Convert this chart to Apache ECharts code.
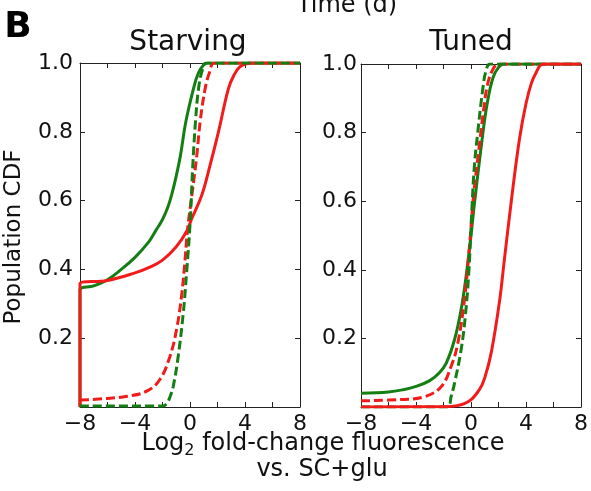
<!DOCTYPE html>
<html>
<head>
<meta charset="utf-8">
<script src="https://cdn.jsdelivr.net/npm/echarts@6/dist/echarts.min.js"></script>
<style>
  html, body { margin: 0; padding: 0; background: #fff; }
  #chart { width: 591px; height: 491px; }
</style>
</head>
<body>
<div id="chart"></div>
<script>
// values: [log2 fold change, CDF]
const starvGreenSolid = [[-8, 0], [-8, 0.34], [-7, 0.352], [-6, 0.37], [-5, 0.4], [-4, 0.435], [-3, 0.48], [-2.5, 0.512], [-2, 0.545], [-1.6, 0.582], [-1.3, 0.622], [-1.0, 0.672], [-0.7, 0.73], [-0.3, 0.83], [0.25, 0.925], [0.6, 0.97], [1.0, 0.995], [1.3, 1], [8, 1]];
const starvRedSolid = [[-8, 0], [-8, 0.358], [-6, 0.368], [-4, 0.39], [-3, 0.405], [-2, 0.427], [-1, 0.466], [-0.25, 0.51], [0.13, 0.548], [0.86, 0.616], [1.46, 0.703], [2.07, 0.8], [2.79, 0.925], [3.2, 0.965], [3.6, 0.988], [4.1, 0.998], [4.6, 1], [8, 1]];
const starvRedDash = [[-8, 0.02], [-6, 0.025], [-4.58, 0.031], [-3.15, 0.046], [-2.19, 0.08], [-1.46, 0.147], [-0.98, 0.225], [-0.62, 0.321], [-0.38, 0.418], [-0.18, 0.515], [0.15, 0.62], [0.49, 0.73], [0.74, 0.83], [1.1, 0.925], [1.4, 0.97], [1.8, 1], [8, 1]];
const starvGreenDash = [[-8, 0.003], [-2, 0.003], [-1.7, 0.01], [-1.45, 0.03], [-1.22, 0.06], [-0.86, 0.147], [-0.49, 0.273], [-0.25, 0.389], [0, 0.53], [0.2, 0.7], [0.4, 0.83], [0.62, 0.925], [0.9, 0.98], [1.2, 1], [8, 1]];

const tunedGreenSolid = [[-8, 0.04], [-6, 0.044], [-5, 0.05], [-4, 0.06], [-3, 0.077], [-2.3, 0.1], [-1.8, 0.128], [-1.2, 0.196], [-0.72, 0.284], [-0.36, 0.38], [0, 0.5], [0.27, 0.6], [0.87, 0.8], [1.2, 0.89], [1.6, 0.96], [2.0, 0.99], [2.4, 1], [8, 1]];
const tunedRedDash = [[-8, 0.018], [-5, 0.022], [-3.38, 0.03], [-2.17, 0.059], [-1.45, 0.118], [-0.96, 0.186], [-0.48, 0.312], [-0.15, 0.45], [0.2, 0.62], [0.57, 0.75], [0.93, 0.87], [1.2, 0.94], [1.6, 0.985], [2.0, 1], [8, 1]];
const tunedGreenDash = [[-8, 0], [-1.7, 0], [-1.45, 0.03], [-1.2, 0.069], [-0.72, 0.167], [-0.4, 0.27], [-0.15, 0.4], [0.07, 0.58], [0.24, 0.7], [0.49, 0.8], [0.85, 0.925], [1.09, 0.98], [1.4, 1], [8, 1]];
const tunedRedSolid = [[-8, 0], [-2, 0.001], [-1, 0.004], [-0.1, 0.018], [0.63, 0.052], [1.0, 0.085], [1.48, 0.16], [2.08, 0.31], [2.4, 0.42], [2.93, 0.6], [3.52, 0.78], [4.0, 0.885], [4.4, 0.945], [4.74, 0.975], [5.1, 0.998], [5.4, 1], [8, 1]];

const panelTitles = ["Starving", "Tuned"];
const xTicks = [-8, -4, 0, 4, 8];
const yTicks = [0.2, 0.4, 0.6, 0.8, 1.0];

const GREEN = "#137f13";
const RED = "#f31a1a";
const FONT = "DejaVu Sans";
const AX = "#222";

const chart = echarts.init(document.getElementById("chart"), null, { renderer: "canvas" });

const grids = [
  { left: 80, top: 63, width: 220, height: 344 },
  { left: 361, top: 64, width: 220, height: 343 }
];

const xFmt = (v) => (xTicks.indexOf(v) >= 0 ? String(v).replace("-", "\u2212") : "");
const yFmt = (v) => (yTicks.some((t) => Math.abs(t - v) < 1e-6) ? v.toFixed(1) : "");

const xAxes = [];
const yAxes = [];
grids.forEach((g, i) => {
  ["bottom", "top"].forEach((pos) => {
    xAxes.push({
      type: "value", gridIndex: i, position: pos, min: -8, max: 8, interval: 2,
      axisLine: { show: true, onZero: false, lineStyle: { color: AX, width: 1 } },
      axisTick: { show: true, inside: true, length: 5, lineStyle: { color: AX } },
      splitLine: { show: false },
      axisLabel: { show: pos === "bottom", formatter: xFmt, fontSize: 22, color: "#111", fontFamily: FONT, margin: 6 }
    });
  });
  ["left", "right"].forEach((pos) => {
    yAxes.push({
      type: "value", gridIndex: i, position: pos, min: 0, max: 1, interval: 0.2,
      axisLine: { show: true, onZero: false, lineStyle: { color: AX, width: 1 } },
      axisTick: { show: true, inside: true, length: 5, lineStyle: { color: AX } },
      splitLine: { show: false },
      axisLabel: { show: pos === "left", formatter: yFmt, fontSize: 22, color: "#111", fontFamily: FONT, margin: i === 0 ? 7 : 4 }
    });
  });
});

function line(data, color, dashed, panel) {
  return {
    type: "line", xAxisIndex: panel * 2, yAxisIndex: panel * 2, data: data,
    showSymbol: false, smooth: 0.4, animation: false, silent: true,
    lineStyle: { color: color, width: 3, type: dashed ? [9, 4] : "solid" }
  };
}

const series = [
  line(starvGreenSolid, GREEN, false, 0),
  line(starvRedSolid, RED, false, 0),
  line(starvRedDash, RED, true, 0),
  line(starvGreenDash, GREEN, true, 0),
  line(tunedGreenSolid, GREEN, false, 1),
  line(tunedRedDash, RED, true, 1),
  line(tunedGreenDash, GREEN, true, 1),
  line(tunedRedSolid, RED, false, 1)
];

const txt = (text, x, y, size, extra) => Object.assign({
  type: "text", x: x, y: y, silent: true,
  style: { text: text, fontSize: size, fontFamily: FONT, fill: "#111", align: "center", verticalAlign: "middle" }
}, extra || {});

const graphic = [
  txt("Time (d)", 347, 6, 24),
  { type: "text", x: 18, y: 28, style: { text: "B", fontSize: 36, fontWeight: "bold", fontFamily: FONT, fill: "#000", align: "center", verticalAlign: "middle" } },
  txt(panelTitles[0], 188, 43, 28),
  txt(panelTitles[1], 471, 43, 28),
  txt("Population CDF", 14, 237, 23, { rotation: Math.PI / 2 }),
  {
    type: "text", x: 323, y: 444, silent: true,
    style: {
      text: "{n|Log}{s|2}{n| fold-change fluorescence}",
      align: "center", verticalAlign: "middle",
      rich: {
        n: { fontSize: 24, fontFamily: FONT, fill: "#111", lineHeight: 30 },
        s: { fontSize: 16, fontFamily: FONT, fill: "#111", lineHeight: 16, verticalAlign: "bottom" }
      }
    }
  },
  txt("vs. SC+glu", 322, 470, 24)
];

chart.setOption({
  animation: false,
  backgroundColor: "#fff",
  grid: grids,
  xAxis: xAxes,
  yAxis: yAxes,
  series: series,
  graphic: graphic
});
</script>
</body>
</html>
